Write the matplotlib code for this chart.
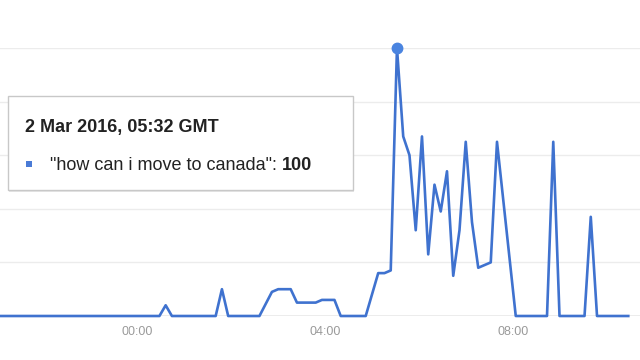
import pandas as pd
import matplotlib.pyplot as plt
from matplotlib.patches import Rectangle

plt.rcParams['font.family'] = ['Liberation Sans', 'DejaVu Sans']

# Google Trends, interest over the last day (vertices of the line, GMT)
times = ['2016-03-01 21:00', '2016-03-02 00:28', '2016-03-02 00:36', '2016-03-02 00:44',
         '2016-03-02 01:40', '2016-03-02 01:48', '2016-03-02 01:56', '2016-03-02 02:36',
         '2016-03-02 02:52', '2016-03-02 03:00', '2016-03-02 03:16', '2016-03-02 03:24',
         '2016-03-02 03:48', '2016-03-02 03:56', '2016-03-02 04:12', '2016-03-02 04:20',
         '2016-03-02 04:52', '2016-03-02 05:08', '2016-03-02 05:16', '2016-03-02 05:24',
         '2016-03-02 05:32', '2016-03-02 05:40', '2016-03-02 05:48', '2016-03-02 05:56',
         '2016-03-02 06:04', '2016-03-02 06:12', '2016-03-02 06:20', '2016-03-02 06:28',
         '2016-03-02 06:36', '2016-03-02 06:44', '2016-03-02 06:52', '2016-03-02 07:00',
         '2016-03-02 07:08', '2016-03-02 07:16', '2016-03-02 07:24', '2016-03-02 07:32',
         '2016-03-02 07:40', '2016-03-02 08:04', '2016-03-02 08:44', '2016-03-02 08:52',
         '2016-03-02 09:00', '2016-03-02 09:32', '2016-03-02 09:40', '2016-03-02 09:48',
         '2016-03-02 10:28']
interest = [0, 0, 4, 0,
            0, 10, 0, 0,
            9, 10, 10, 5,
            5, 6, 6, 0,
            0, 16, 16, 17,
            100, 67, 60, 32,
            67, 23, 49, 39,
            54, 15, 32, 65,
            35, 18, 19, 20,
            65, 0, 0, 65,
            0, 0, 37, 0,
            0]
tick_times = ['2016-03-02 00:00', '2016-03-02 04:00', '2016-03-02 08:00']
tick_labels = ['00:00', '04:00', '08:00']
peak_time = '2016-03-02 05:32'
query = 'how can i move to canada'

# minutes since midnight
t0 = pd.Timestamp('2016-03-02 00:00')
mins = [(pd.Timestamp(t) - t0).total_seconds() / 60 for t in times]
tick_mins = [(pd.Timestamp(t) - t0).total_seconds() / 60 for t in tick_times]
peak_min = (pd.Timestamp(peak_time) - t0).total_seconds() / 60
peak_val = interest[times.index(peak_time)]

fig = plt.figure(figsize=(6.4, 3.6), dpi=100)
ax = fig.add_axes([0, 44 / 360, 1, 268 / 360])

line_color = '#3f72cf'
ax.plot(mins, interest, color=line_color, linewidth=1.9, zorder=3, clip_on=False)
ax.plot([peak_min], [peak_val], 'o', color='#4a84e0', markersize=7.5, zorder=4, clip_on=False)

ax.set_xlim(-176, 643)
ax.set_ylim(0, 100)
ax.set_yticks([20, 40, 60, 80, 100])
ax.grid(True, axis='y', color='#ececec', linewidth=1)
ax.axhline(0, color='#a0a0a0', linewidth=1, zorder=2)
ax.set_xticks(tick_mins)
ax.set_xticklabels(tick_labels, color='#9a9a9a', fontsize=9)
ax.tick_params(axis='x', length=0, pad=7)
ax.tick_params(axis='y', length=0, labelleft=False)
for s in ax.spines.values():
    s.set_visible(False)

# tooltip box
W, H = 640, 360
fig.patches.append(Rectangle((9 / W, 1 - 192 / H), 345 / W, 94 / H, transform=fig.transFigure,
                             facecolor='#e6e6e6', edgecolor='none', zorder=5))
fig.patches.append(Rectangle((8 / W, 1 - 190 / H), 345 / W, 94 / H, transform=fig.transFigure,
                             facecolor='white', edgecolor='#c8c8c8', linewidth=1, zorder=6))
fig.text(25 / W, 1 - 132 / H, '2 Mar 2016, 05:32 GMT', fontsize=13, fontweight='bold',
         color='#222222', va='baseline', zorder=7)
fig.patches.append(Rectangle((26 / W, 1 - 167 / H), 6 / W, 6 / H, transform=fig.transFigure,
                             facecolor='#4a7bd6', edgecolor='none', zorder=7))
t1 = fig.text(50 / W, 1 - 170 / H, '"%s": ' % query, fontsize=13, color='#222222',
              va='baseline', zorder=7)
fig.canvas.draw()
bb = t1.get_window_extent()
fig.text(bb.x1 / W, 1 - 170 / H, str(peak_val), fontsize=13, fontweight='bold',
         color='#222222', va='baseline', zorder=7)

fig.savefig('out.png', dpi=100)
